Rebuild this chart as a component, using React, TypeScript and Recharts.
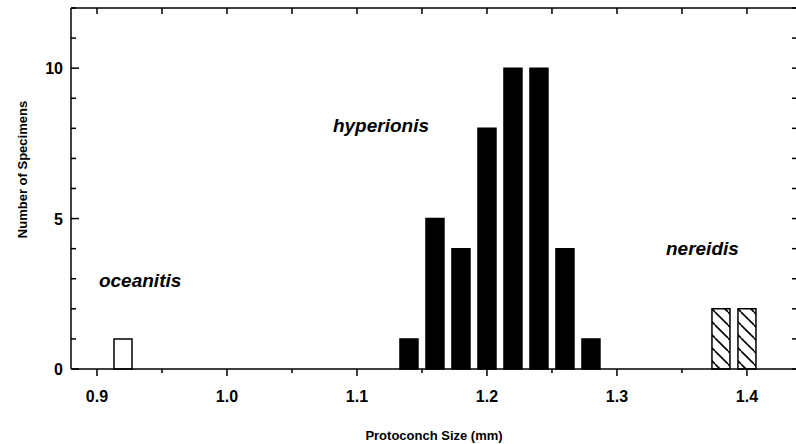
import React from 'react';
import { BarChart, Bar, XAxis, YAxis, Cell, ReferenceDot, ReferenceLine } from 'recharts';

// protoconch size classes (mm) and specimen counts
const sizes = [0.92, 1.14, 1.16, 1.18, 1.2, 1.22, 1.24, 1.26, 1.28, 1.38, 1.4];
const counts = [1, 1, 5, 4, 8, 10, 10, 4, 1, 2, 2];
const species = ['oceanitis', 'hyperionis', 'hyperionis', 'hyperionis', 'hyperionis', 'hyperionis', 'hyperionis', 'hyperionis', 'hyperionis', 'nereidis', 'nereidis'];

const xTicks = [0.9, 0.95, 1.0, 1.05, 1.1, 1.15, 1.2, 1.25, 1.3, 1.35, 1.4];
const yTicks = [0, 1, 2, 3, 4, 5, 6, 7, 8, 9, 10, 11, 12];
const yLabels = [0, 5, 10];

// species names written in the plot, anchored at data coords
const noteNames = ['oceanitis', 'hyperionis', 'nereidis'];
const noteX = [0.9015, 1.0815, 1.3377];
const noteY = [2.73, 7.88, 3.79];

const X_MIN = 0.88;
const X_MAX = 1.4385;
const Y_MAX = 12;

const data = sizes.map((s, i) => ({ size: s, count: counts[i], species: species[i] }));

const FONT = '"Liberation Sans", Arial, Helvetica, sans-serif';

const fillFor = (sp: string) => {
    if (sp === 'hyperionis') return '#000';
    if (sp === 'nereidis') return 'url(#hatch)';
    return '#fff';
};

const isMajorX = (v: number) => Math.abs(v * 10 - Math.round(v * 10)) < 1e-6;

// bottom axis: outward tick + label (axis ticks are not clipped, reference dots are)
const BottomTick = (props: any) => {
    const { x, y, payload } = props;
    const major = isMajorX(payload.value);
    return (
        <g>
            <path d={`M${x},${y}L${x},${y + (major ? 7 : 4)}`} stroke="#000" strokeWidth={1.5} fill="none" />
            <text x={x} y={y + 33} textAnchor="middle" fontSize={16} fontWeight="bold" fontFamily={FONT} fill="#000">
                {major ? payload.value.toFixed(1) : ''}
            </text>
        </g>
    );
};

const LeftLabel = (props: any) => {
    const { x, y, payload } = props;
    const txt = yLabels.includes(payload.value) ? String(payload.value) : '';
    return (
        <text x={x - 8} y={y + 6} textAnchor="end" fontSize={16} fontWeight="bold" fontFamily={FONT} fill="#000">
            {txt}
        </text>
    );
};

// short inward tick marks at the frame, dx/dy in pixels from the anchor point
const tickMark = (dx: number, dy: number) => (p: any) => (
    <path d={`M${p.cx},${p.cy}L${p.cx + dx},${p.cy + dy}`} stroke="#000" strokeWidth={1.5} fill="none" />
);

const App: React.FC = () => {
    return (
        <div style={{ position: 'absolute', left: 0, top: 0, width: 796, height: 444, overflow: 'hidden', background: '#fff' }}>
            <BarChart width={800} height={444} data={data} margin={{ top: 8, right: 3, bottom: 0, left: 0 }} barSize={18}>
                <defs>
                    <pattern id="hatch" patternUnits="userSpaceOnUse" width="13" height="13">
                        <rect width="13" height="13" fill="#fff" />
                        <line x1="0" y1="0" x2="13" y2="13" stroke="#000" strokeWidth={1.6} />
                        <line x1="-13" y1="0" x2="0" y2="13" stroke="#000" strokeWidth={1.6} />
                        <line x1="13" y1="0" x2="26" y2="13" stroke="#000" strokeWidth={1.6} />
                    </pattern>
                </defs>
                <XAxis
                    dataKey="size"
                    type="number"
                    domain={[X_MIN, X_MAX]}
                    allowDataOverflow
                    ticks={xTicks}
                    interval={0}
                    height={75}
                    tickSize={0}
                    tickMargin={0}
                    tick={<BottomTick />}
                    axisLine={{ stroke: '#000', strokeWidth: 1.5 }}
                    label={{
                        value: 'Protoconch Size (mm)',
                        position: 'insideBottom',
                        offset: 4,
                        style: { fontSize: 13, fontWeight: 'bold', fontFamily: FONT, fill: '#000' },
                    }}
                />
                <YAxis
                    type="number"
                    domain={[0, Y_MAX]}
                    ticks={yTicks}
                    interval={0}
                    width={71}
                    tickSize={0}
                    tickMargin={0}
                    tick={<LeftLabel />}
                    axisLine={{ stroke: '#000', strokeWidth: 1.5 }}
                    label={{
                        value: 'Number of Specimens',
                        angle: -90,
                        position: 'insideLeft',
                        offset: 22,
                        dy: -19,
                        style: { fontSize: 13, fontWeight: 'bold', fontFamily: FONT, fill: '#000', textAnchor: 'middle' },
                    }}
                />
                <ReferenceLine y={Y_MAX} stroke="#000" strokeWidth={1.5} ifOverflow="visible" />
                <ReferenceLine x={X_MAX} stroke="#000" strokeWidth={1.5} ifOverflow="visible" />
                <Bar dataKey="count" isAnimationActive={false} stroke="#000" strokeWidth={1.5}>
                    {data.map((d, i) => (
                        <Cell key={i} fill={fillFor(d.species)} />
                    ))}
                </Bar>
                {xTicks.map((v) => (
                    <ReferenceDot key={'t' + v} x={v} y={Y_MAX} r={0} ifOverflow="visible" shape={tickMark(0, 6)} />
                ))}
                {yTicks.map((v) => (
                    <ReferenceDot key={'l' + v} x={X_MIN} y={v} r={0} ifOverflow="visible" shape={tickMark(yLabels.includes(v) ? 8 : 5, 0)} />
                ))}
                {yTicks.map((v) => (
                    <ReferenceDot key={'r' + v} x={X_MAX} y={v} r={0} ifOverflow="visible" shape={tickMark(-5, 0)} />
                ))}
                {noteNames.map((name, i) => (
                    <ReferenceDot
                        key={name}
                        x={noteX[i]}
                        y={noteY[i]}
                        r={0}
                        ifOverflow="visible"
                        shape={(p: any) => (
                            <text x={p.cx} y={p.cy} fontSize={19} fontWeight="bold" fontStyle="italic" fontFamily={FONT} fill="#000">
                                {name}
                            </text>
                        )}
                    />
                ))}
            </BarChart>
        </div>
    );
};

export default App;
